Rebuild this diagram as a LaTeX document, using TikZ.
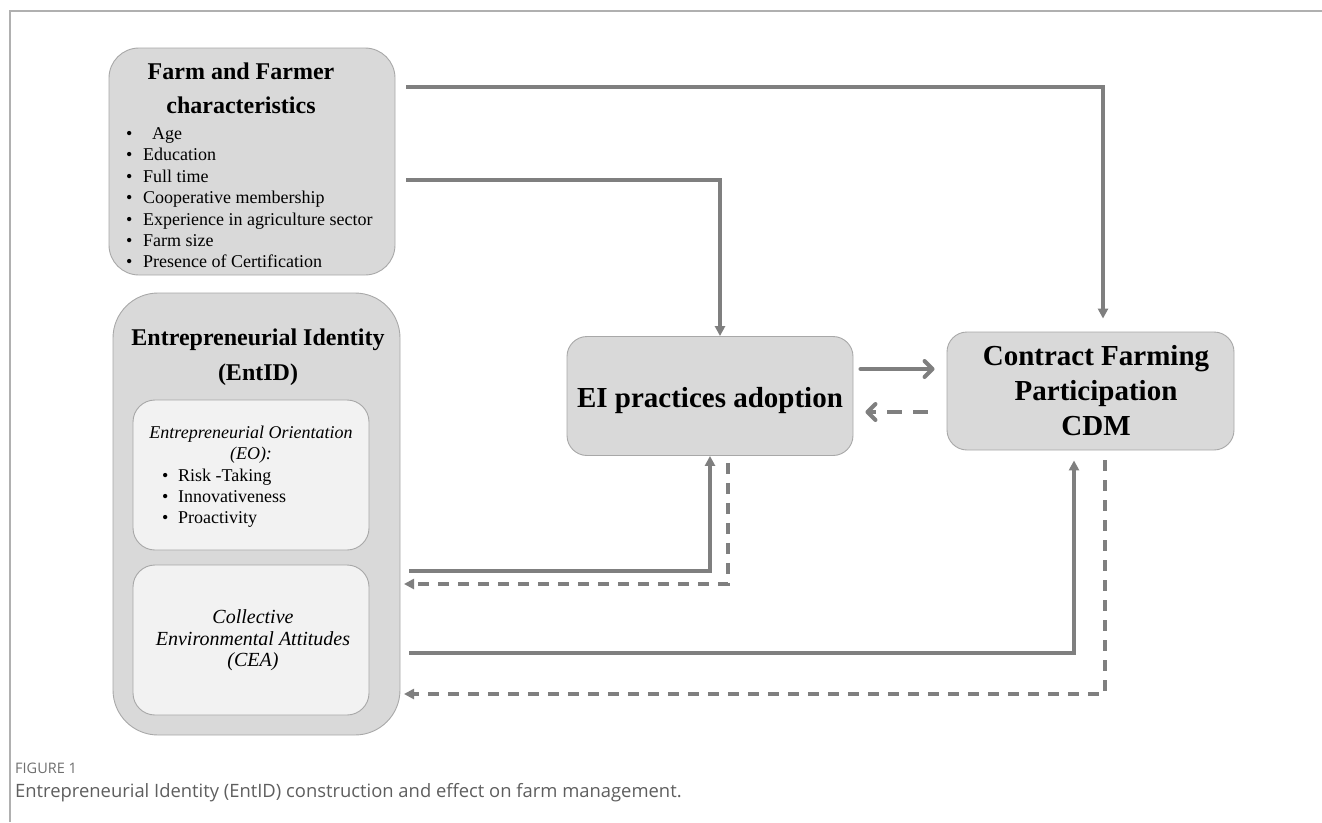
\documentclass[tikz,border=0pt]{standalone}
\usepackage{fontspec}
\setmainfont{Liberation Serif}
\newfontfamily\capfont{Open Sans}
\usetikzlibrary{arrows.meta,calc}
\definecolor{boxfill}{HTML}{D9D9D9}
\definecolor{innerfill}{HTML}{F2F2F2}
\definecolor{boxline}{HTML}{A8A8A8}
\definecolor{conncol}{HTML}{7F7F7F}
\definecolor{framecol}{HTML}{B0B0B0}
\definecolor{capcol}{HTML}{5E5E5E}
\definecolor{figcol}{HTML}{6E6E6E}
\begin{document}
\begin{tikzpicture}[x=1pt,y=-1pt,
  outerbox/.style={draw=boxline, line width=0.9pt, fill=boxfill, inner sep=0pt},
  innerbox/.style={draw=boxline, line width=0.9pt, fill=innerfill, inner sep=0pt, rounded corners=22pt, minimum width=236pt, minimum height=150pt},
  title/.style={inner sep=0pt, anchor=base, font=\fontsize{24}{28}\selectfont\bfseries},
  bigtitle/.style={inner sep=0pt, anchor=base, font=\fontsize{29}{34}\selectfont\bfseries},
  item/.style={inner sep=0pt, anchor=base west, font=\fontsize{18}{21}\selectfont},
  itl/.style={inner sep=0pt, anchor=base, font=\fontsize{18}{21}\selectfont\itshape},
  ceatxt/.style={inner sep=0pt, anchor=base, font=\fontsize{20}{22}\selectfont\itshape},
  conn/.style={draw=conncol, line width=3.2pt, -{Triangle[length=10pt,width=10pt]}},
  dconn/.style={draw=conncol, line width=3.2pt, dash pattern=on 11pt off 9pt, -{Triangle[length=10pt,width=10pt]}},
  bigconn/.style={draw=conncol, line width=4pt, line cap=round, -{Straight Barb[length=8pt,width=16pt,line cap=round,line join=round]}},
  bigdconn/.style={draw=conncol, line width=4pt, dash pattern=on 15pt off 11pt, -{Straight Barb[length=8pt,width=16pt,line cap=round,line join=round]}}
]
\useasboundingbox (0,0) rectangle (1322,822);
% frame
\draw[framecol, line width=1.5pt] (10,822) -- (10,11) -- (1322,11);

% boxes
\node[outerbox, rounded corners=30pt, minimum width=286pt, minimum height=227pt] (farm) at (252,161.5) {};
\node[outerbox, rounded corners=45pt, minimum width=287pt, minimum height=442pt] (entid) at (256.5,514) {};
\node[innerbox] (eo) at (251,475) {};
\node[innerbox] (cea) at (251,640) {};
\node[outerbox, rounded corners=20pt, minimum width=286pt, minimum height=119pt] (ei) at (710,396) {};
\node[outerbox, rounded corners=20pt, minimum width=287pt, minimum height=118pt] (cdm) at (1090.5,391) {};

% farm text
\node[title] (farmt1) at (241,79) {Farm and Farmer};
\node[title] (farmt2) at (241,113) {characteristics};
\foreach \t [count=\i from 0] in {{\ \ Age},Education,Full time,Cooperative membership,Experience in agriculture sector,Farm size,Presence of Certification}{
  \node[item] (farmi\i) at (126,139.5+21.4*\i) {\makebox[17pt][l]{\textbullet}\t};
}

% EntID text
\node[title] (entt1) at (258,345) {Entrepreneurial Identity};
\node[title] (entt2) at (258,380) {(EntID)};
\node[itl] (eot1) at (251,438) {Entrepreneurial Orientation};
\node[itl] (eot2) at (251,459) {(EO):};
\foreach \t [count=\i from 0] in {Risk -Taking,Innovativeness,Proactivity}{
  \node[item] (eoi\i) at (162,481+21*\i) {\makebox[16pt][l]{\textbullet}\t};
}
\node[ceatxt] (ceat1) at (253,623) {Collective};
\node[ceatxt] (ceat2) at (253,645) {Environmental Attitudes};
\node[ceatxt] (ceat3) at (253,666) {(CEA)};

% EI and CDM text
\node[bigtitle] (eit) at (710,407) {EI practices adoption};
\node[bigtitle] (cdmt1) at (1096,365) {Contract Farming};
\node[bigtitle] (cdmt2) at (1096,400) {Participation};
\node[bigtitle] (cdmt3) at (1096,435) {CDM};

% connectors
\coordinate (s1) at (406,87);
\coordinate (s2) at (406,180);
\coordinate (s3) at (409,571);
\coordinate (e4) at (404,584);
\coordinate (s5) at (409,653);
\coordinate (e6) at (404,694);

\draw[conn] (s1) -| ([xshift=12.5pt,yshift=13pt]cdm.north);
\draw[conn] (s2) -| ([xshift=10pt]ei.north);
\draw[conn] (s3) -| (ei.south);
\draw[dconn] ([xshift=18pt,yshift=-7pt]ei.south) |- (e4);
\draw[conn] (s5) -| ([xshift=-16.5pt,yshift=-10pt]cdm.south);
\draw[dconn] ([xshift=14.5pt,yshift=-10pt]cdm.south) |- (e6);
\draw[bigconn] ([xshift=7pt,yshift=27pt]ei.east) -- ([xshift=-12pt,yshift=22pt]cdm.west);
\draw[bigdconn] ([xshift=-19pt,yshift=-21pt]cdm.west) -- ([xshift=12pt,yshift=-16pt]ei.east);

% caption
\node[inner sep=0pt, anchor=base west, font=\capfont\fontsize{14.5}{16}\selectfont, text=figcol] (figlab) at (15,773) {FIGURE 1};
\node[inner sep=0pt, anchor=base west, font=\capfont\fontsize{18.4}{21}\selectfont, text=capcol] (caption) at (15,797) {Entrepreneurial Identity (EntID) construction and effect on farm management.};
\end{tikzpicture}
\end{document}
